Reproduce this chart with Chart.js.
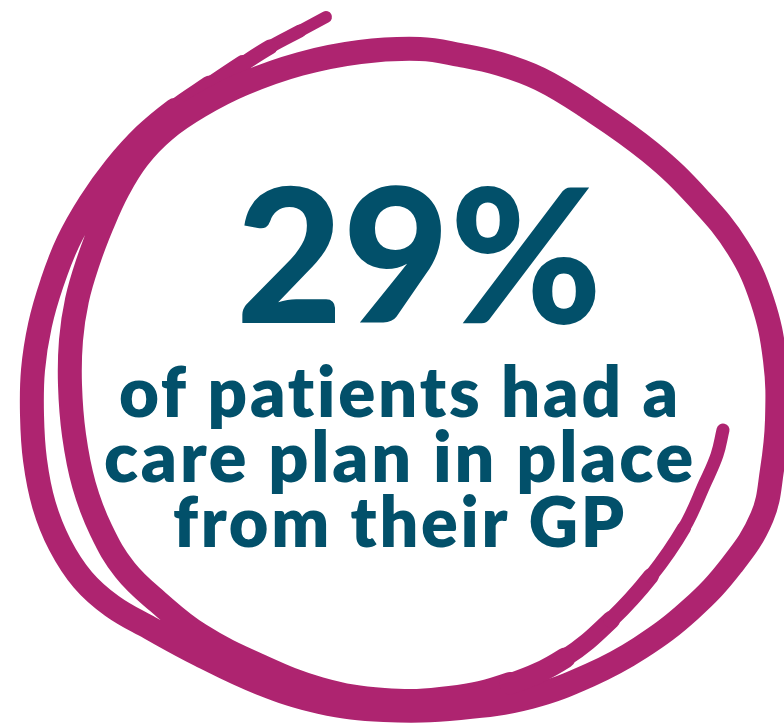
<!DOCTYPE html>
<html>
<head>
<meta charset="utf-8">
<script src="https://cdn.jsdelivr.net/npm/chart.js@4.4.1/dist/chart.umd.min.js"></script>
<style>
  html, body { margin: 0; padding: 0; background: #ffffff; }
  #wrap { width: 784px; height: 725px; }
</style>
</head>
<body>
<div id="wrap"><canvas id="scribbleChart" width="784" height="725"></canvas></div>
<script>
// Texto del gráfico
const headline = '29%';
const captionLines = ['of patients had a', 'care plan in place', 'from their GP'];

// Trazo a mano alzada (x, y en píxeles de la imagen)
// inicio fino arriba
const tailX = [326, 300, 270, 243];
const tailY = [17, 31, 47, 64];
// vuelta exterior: izquierda, abajo, derecha y arriba
const outerX = [210, 175, 145, 115, 90, 68, 52, 40, 33, 32, 35, 44, 60, 83, 112, 150, 200, 260, 320, 384, 460, 530, 590, 640, 690, 732, 762, 772, 777, 775, 762, 738, 700, 650, 584, 540, 500, 460, 420, 360, 300, 243];
const outerY = [86, 110, 135, 168, 203, 242, 283, 325, 370, 415, 460, 505, 545, 580, 606, 628, 655, 683, 702, 710, 708, 697, 675, 648, 610, 565, 517, 470, 420, 360, 300, 248, 200, 152, 105, 79, 64, 55, 49, 52, 64, 84];
// vuelta interior
const innerX = [200, 165, 138, 118, 102, 88, 77, 71, 70, 74, 84, 101, 125, 158, 200, 258, 320, 384, 450, 510];
const innerY = [106, 130, 158, 190, 225, 262, 300, 340, 385, 435, 485, 530, 570, 602, 635, 665, 689, 700, 698, 684];
// final fino que sube por la derecha
const endX = [565, 611, 651, 684, 705, 717, 723];
const endY = [658, 620, 576, 528, 483, 455, 430];

const strokeX = [...tailX, ...outerX, ...innerX, ...endX];
const strokeY = [...tailY, ...outerY, ...innerY, ...endY];
const strokePoints = strokeX.map((x, i) => ({ x: x, y: strokeY[i] }));

const magenta = '#ae2470';
const teal = '#02506a';

// grosor del trazo según el tramo (se afina al principio y al final)
const tailWidths = [12, 13, 15, 18, 21];
const endWidths = [21, 18, 16, 14, 13, 13, 13];
const endStart = tailX.length + outerX.length + innerX.length - 1;
function segmentWidth(ctx) {
    const i = ctx.p0DataIndex;
    if (i < tailWidths.length) return tailWidths[i];
    if (i >= endStart) return endWidths[Math.min(i - endStart, endWidths.length - 1)];
    return 24;
}

// Plugin para escribir los textos en coordenadas de los ejes
const textPlugin = {
    id: 'infoText',
    afterDatasetsDraw(chart) {
        const ctx = chart.ctx;
        const xs = chart.scales.x;
        const ys = chart.scales.y;
        ctx.save();
        ctx.fillStyle = teal;
        ctx.textAlign = 'center';
        ctx.textBaseline = 'alphabetic';

        ctx.font = '900 186px Lato, "Open Sans", sans-serif';
        ctx.fillText(headline, xs.getPixelForValue(419), ys.getPixelForValue(323), 366);

        const baselines = [417, 482, 547];
        const widths = [562, 595, 454];
        ctx.font = '800 70px Lato, "Open Sans", sans-serif';
        ctx.letterSpacing = '2.8px';
        captionLines.forEach((line, i) => {
            ctx.fillText(line, xs.getPixelForValue(400), ys.getPixelForValue(baselines[i]), widths[i]);
        });
        ctx.restore();
    }
};

new Chart(document.getElementById('scribbleChart').getContext('2d'), {
    type: 'scatter',
    data: {
        datasets: [{
            label: 'scribble',
            data: strokePoints,
            showLine: true,
            borderColor: magenta,
            backgroundColor: magenta,
            borderWidth: 24,
            pointRadius: 0,
            pointHoverRadius: 0,
            tension: 0.4,
            borderCapStyle: 'round',
            borderJoinStyle: 'round',
            clip: false,
            fill: false,
            segment: { borderWidth: segmentWidth }
        }]
    },
    options: {
        responsive: false,
        animation: false,
        layout: { padding: 0 },
        plugins: {
            legend: { display: false },
            tooltip: { enabled: false }
        },
        scales: {
            x: { type: 'linear', min: 0, max: 784, display: false },
            y: { type: 'linear', min: 0, max: 725, reverse: true, display: false }
        }
    },
    plugins: [textPlugin]
});
</script>
</body>
</html>
